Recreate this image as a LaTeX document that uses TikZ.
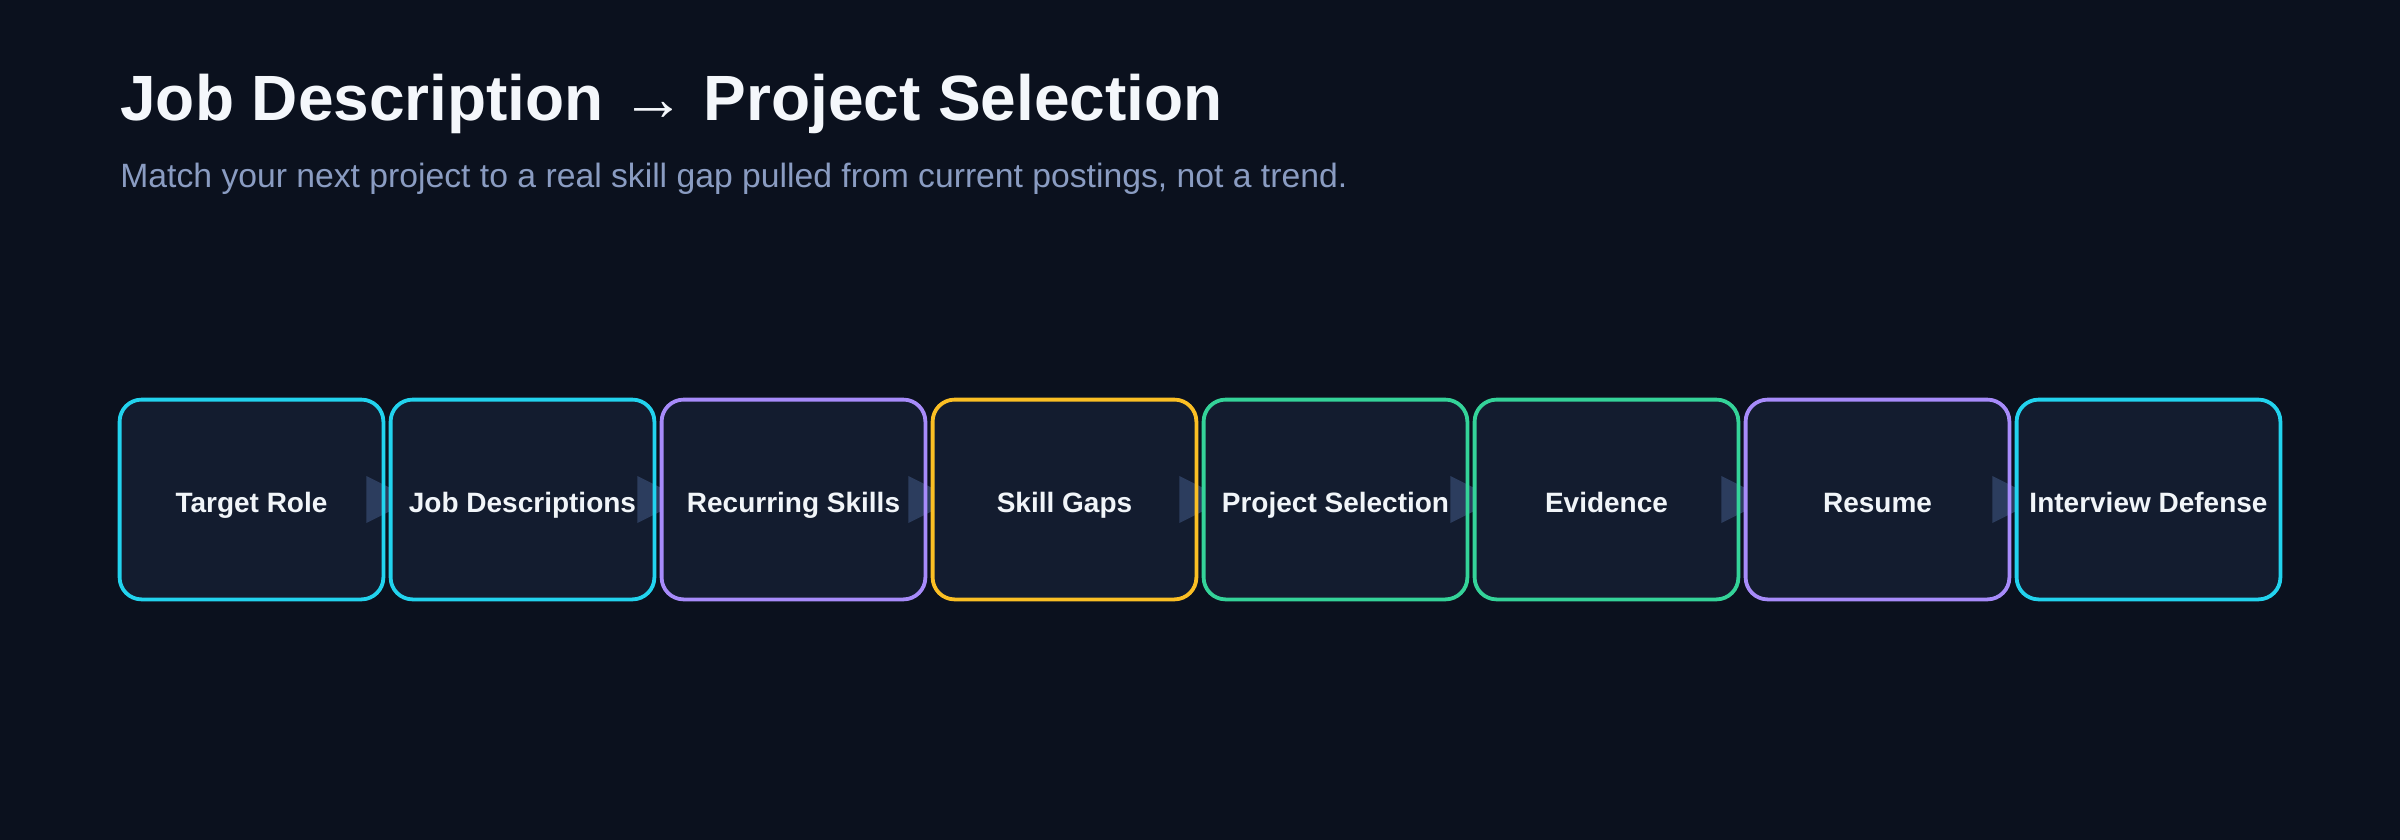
\documentclass[tikz,border=0pt]{standalone}
\usepackage{fontspec}
\setmainfont{Liberation Sans}
\definecolor{bgc}{HTML}{0B111E}
\definecolor{boxfill}{HTML}{131C2F}
\definecolor{tric}{HTML}{2C3D5E}
\definecolor{titlec}{HTML}{F4F7FB}
\definecolor{subc}{HTML}{8A9CC2}
\definecolor{labelc}{HTML}{F1F5F9}
\definecolor{ccyan}{HTML}{22D3EE}
\definecolor{cpurple}{HTML}{A78BFA}
\definecolor{camber}{HTML}{FBBF24}
\definecolor{cgreen}{HTML}{34D399}
\begin{document}
\begin{tikzpicture}[x=0.5pt,y=-0.5pt,
  stagebox/.style={rectangle, rounded corners=11pt, minimum width=131.5pt,
    minimum height=99.5pt, inner sep=0pt, fill=boxfill,
    text=labelc, font=\fontsize{14}{16}\selectfont\bfseries,
    text height=12.5pt, text depth=0pt},
  wedge/.style={fill=tric},
  rim/.style={draw=#1, line width=1.9pt, rounded corners=11pt}]
\fill[bgc] (0,0) rectangle (2400,840);
\useasboundingbox (0,0) rectangle (2400,840);

\node[anchor=base west, inner sep=0pt, text=titlec,
  font=\fontsize{32}{38}\selectfont\bfseries] (title) at (120,121)
  {Job Description {\mdseries →} Project Selection};
\node[anchor=base west, inner sep=0pt, text=subc,
  font=\fontsize{16.85}{20}\selectfont] (subtitle) at (120,187)
  {Match your next project to a real skill gap pulled from current postings, not a trend.};

\node[stagebox]  (b1) at (251.5,499.5)  {Target Role};
\node[stagebox]  (b2) at (522.5,499.5)  {Job Descriptions};
\node[stagebox]  (b3) at (793.5,499.5)  {Recurring Skills};
\node[stagebox]  (b4) at (1064.5,499.5) {Skill Gaps};
\node[stagebox]  (b5) at (1335.5,499.5) {Project Selection};
\node[stagebox]  (b6) at (1606.5,499.5) {Evidence};
\node[stagebox]  (b7) at (1877.5,499.5) {Resume};
\node[stagebox]  (b8) at (2148.5,499.5) {Interview Defense};

\foreach \i/\j in {1/2,2/3,3/4,4/5,5/6,6/7,7/8}{
  \begin{scope}
    \clip ([xshift=-20pt]b\i.north east) rectangle ([xshift=-0.9pt]b\j.south west);
    \fill[wedge] ([xshift=-8.5pt,yshift=-11.75pt]b\i.east) -- ++(23.5pt,11.75pt) -- ++(-23.5pt,11.75pt) -- cycle;
  \end{scope}
}
\foreach \i/\c in {1/ccyan,2/ccyan,3/cpurple,4/camber,5/cgreen,6/cgreen,7/cpurple,8/ccyan}{
  \draw[rim=\c] (b\i.south west) rectangle (b\i.north east);
}
\end{tikzpicture}
\end{document}
